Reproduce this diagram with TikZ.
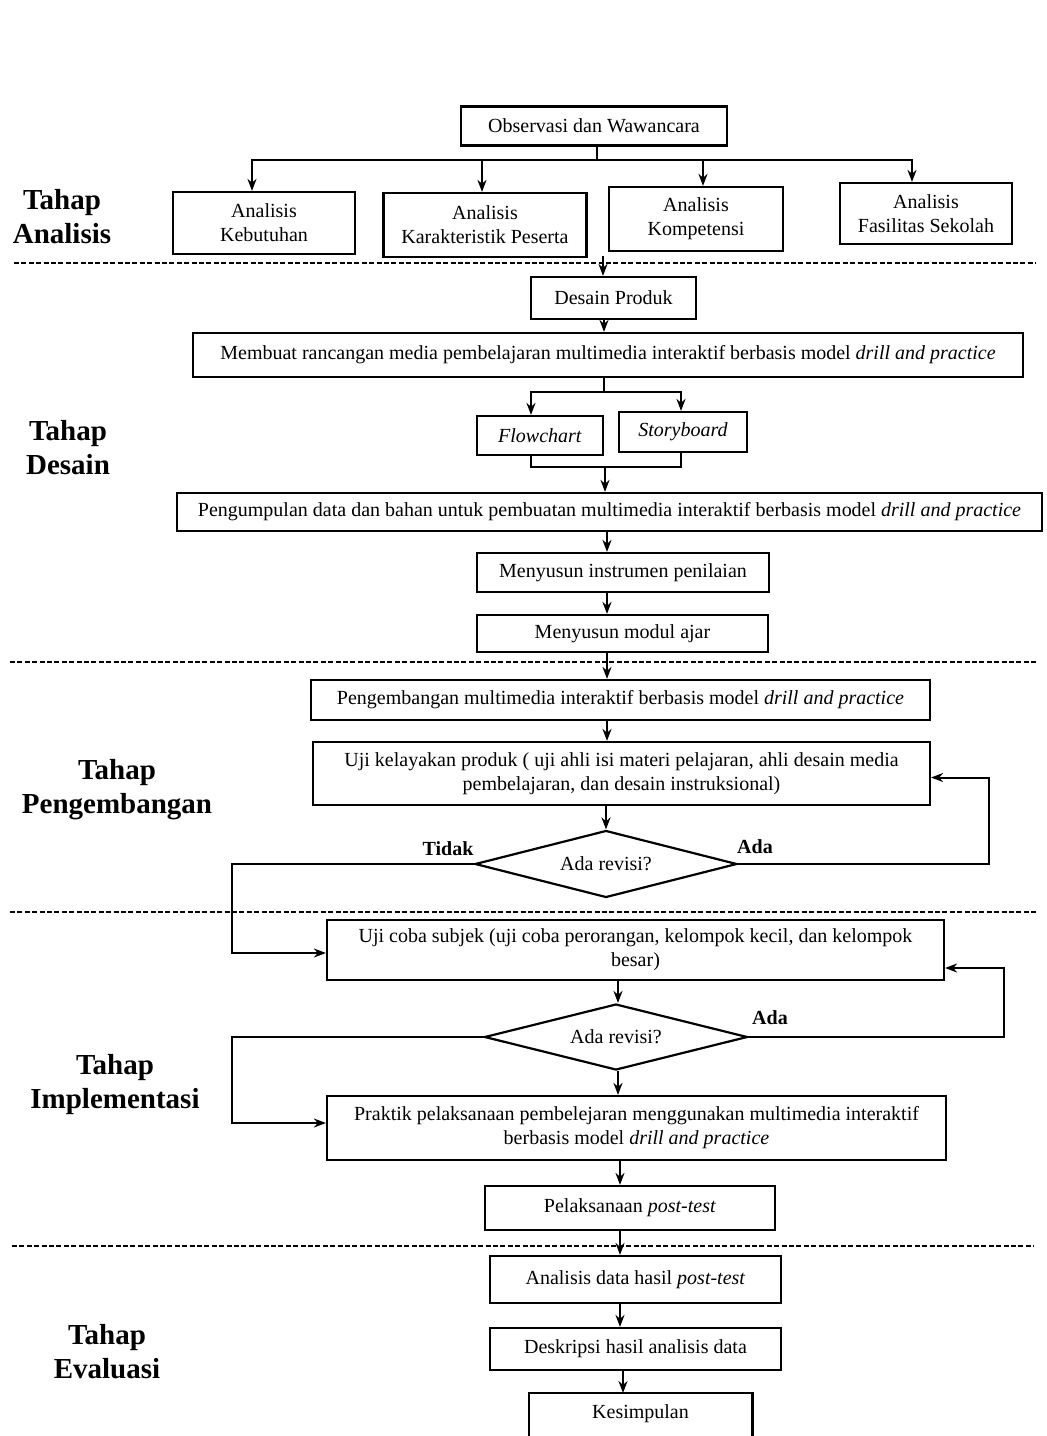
\documentclass[tikz,border=0pt]{standalone}
\usepackage{fontspec}
\setmainfont{Liberation Serif}
\usetikzlibrary{arrows.meta,shapes.geometric,calc}
\tikzset{
  box/.style={draw, line width=1.1pt, inner sep=0pt, align=center, font=\fontsize{10}{12}\selectfont},
  dia/.style={draw, diamond, aspect=3.9, line width=1.1pt, inner sep=0pt, font=\fontsize{10}{12}\selectfont},
  arr/.style={line width=1pt, -{Stealth[length=6pt,width=4.5pt]}},
  ln/.style={line width=1pt},
  sep/.style={line width=0.9pt, dash pattern=on 2.5pt off 1.2pt},
  stage/.style={align=center, font=\fontsize{14.5}{17}\selectfont\bfseries},
  lab/.style={font=\fontsize{10}{12}\selectfont\bfseries}
}
\begin{document}
\begin{tikzpicture}[x=0.5pt,y=-0.5pt]
\useasboundingbox (0,0) rectangle (1046,1436);

% stage labels
\node[stage] (sa) at (62,217) {Tahap\\Analisis};
\node[stage] (sd) at (68,448) {Tahap\\Desain};
\node[stage] (sp) at (117,790) {Tahap\\Pengembangan};
\node[stage] (si) at (115,1085) {Tahap\\Implementasi};
\node[stage] (se) at (107,1352) {Tahap\\Evaluasi};

% separators
\coordinate (s1a) at (14,263); \coordinate (s1b) at (1036,263);
\coordinate (s2a) at (10,662); \coordinate (s2b) at (1036,662);
\coordinate (s3a) at (10,912); \coordinate (s3b) at (1036,912);
\coordinate (s4a) at (12,1246); \coordinate (s4b) at (1034,1246);
\draw[sep] (s1a) -- (s1b);
\draw[sep] (s2a) -- (s2b);
\draw[sep] (s3a) -- (s3b);
\draw[sep] (s4a) -- (s4b);

% analysis
\node[box, minimum width=133pt, minimum height=19.5pt] (obs) at (594,126) {Observasi dan Wawancara};
\node[box, minimum width=91pt, minimum height=31pt] (keb) at (264,223) {Analisis\\Kebutuhan};
\node[box, minimum width=101.5pt, minimum height=32pt] (kar) at (485,225) {Analisis\\Karakteristik Peserta};
\node[box, minimum width=87pt, minimum height=32pt] (kom) at (696,219) {Analisis\\Kompetensi};
\node[box, minimum width=86pt, minimum height=30.5pt] (fas) at (926,213.5) {Analisis\\Fasilitas Sekolah};

\coordinate (j1) at (597,160);
\draw[ln] (obs.south -| j1) -- (j1);
\draw[arr] (j1) -| ([xshift=-6pt]keb.north);
\draw[arr] (j1) -| ([xshift=-1.5pt]kar.north);
\draw[arr] (j1) -| ([xshift=3.5pt]kom.north);
\draw[arr] (j1) -| ([xshift=-7pt]fas.north);

% design
\node[box, minimum width=82.5pt, minimum height=21pt] (dp) at (613.5,298) {Desain Produk};
\node[box, minimum width=415pt, minimum height=22pt] (mb) at (608,355) {Membuat rancangan media pembelajaran multimedia interaktif berbasis model \textit{drill and practice}};
\node[box, minimum width=63pt, minimum height=19.5pt] (fc) at (540,435.5) {\textit{Flowchart}};
\node[box, minimum width=64pt, minimum height=20pt] (sb) at (683,432) {\textit{Storyboard}};
\node[box, minimum width=432.5pt, minimum height=19pt] (pd) at (609.5,512) {Pengumpulan data dan bahan untuk pembuatan multimedia interaktif berbasis model \textit{drill and practice}};
\node[box, minimum width=146pt, minimum height=19.5pt] (ins) at (623,572.5) {Menyusun instrumen penilaian};
\node[box, minimum width=145.5pt, minimum height=18.5pt] (mod) at (622.5,633.5) {Menyusun modul ajar};

\coordinate (a0) at (603,256);
\draw[arr] (a0) -- (a0 |- dp.north);
\coordinate (x1) at (604,0);
\draw[arr] (dp.south -| x1) -- (mb.north -| x1);
\coordinate (j2) at (604,392);
\draw[ln] (mb.south -| j2) -- (j2);
\draw[arr] (j2) -| ([xshift=-4.5pt]fc.north);
\draw[arr] (j2) -| ([xshift=-1pt]sb.north);
\coordinate (j3) at (605,467);
\draw[ln] ([xshift=-4.5pt]fc.south) |- (j3) -| ([xshift=-1pt]sb.south);
\draw[arr] (j3) -- (j3 |- pd.north);
\coordinate (x2) at (607,0);
\draw[arr] (pd.south -| x2) -- (ins.north -| x2);
\draw[arr] (ins.south -| x2) -- (mod.north -| x2);

% development
\node[box, minimum width=309.5pt, minimum height=20pt] (pg) at (620.5,700) {Pengembangan multimedia interaktif berbasis model \textit{drill and practice}};
\node[box, minimum width=308.5pt, minimum height=31.5pt] (uk) at (621.5,773.5) {Uji kelayakan produk ( uji ahli isi materi pelajaran, ahli desain media\\pembelajaran, dan desain instruksional)};
\node[dia, minimum width=131pt, minimum height=33.5pt] (d1) at (606,864) {Ada revisi?};
\node[lab] (tidak) at (448,849) {Tidak};
\node[lab] (ada1) at (755,847) {Ada};

\draw[arr] (mod.south -| x2) -- (pg.north -| x2);
\draw[arr] (pg.south -| x2) -- (uk.north -| x2);
\draw[arr] (uk.south -| d1.north) -- (d1.north);
\coordinate (r1) at (989,0);
\draw[arr] (d1.east) -| ([yshift=-2pt]r1 |- uk.east) -- ([yshift=-2pt]uk.east);

% implementation
\node[box, minimum width=308.5pt, minimum height=30pt] (uc) at (635.5,950) {Uji coba subjek (uji coba perorangan, kelompok kecil, dan kelompok\\besar)};
\node[dia, minimum width=131.5pt, minimum height=33pt] (d2) at (616,1037) {Ada revisi?};
\node[lab] (ada2) at (770,1018) {Ada};
\node[box, minimum width=309.5pt, minimum height=32pt] (pr) at (636.5,1128) {Praktik pelaksanaan pembelejaran menggunakan multimedia interaktif\\berbasis model \textit{drill and practice}};
\node[box, minimum width=145pt, minimum height=22pt] (pt) at (630,1208) {Pelaksanaan \textit{post-test}};

\coordinate (l1) at (232,0);
\draw[arr] (d1.west) -| ([yshift=-1.5pt]l1 |- uc.west) -- ([yshift=-1.5pt]uc.west);
\coordinate (x3) at (618,0);
\draw[arr] (uc.south -| x3) -- (d2.north -| x3);
\coordinate (r2) at (1004,0);
\draw[arr] (d2.east) -| ([yshift=-9pt]r2 |- uc.east) -- ([yshift=-9pt]uc.east);
\draw[arr] (d2.west) -| ([yshift=2.5pt]l1 |- pr.west) -- ([yshift=2.5pt]pr.west);
\draw[arr] (d2.south -| x3) -- (pr.north -| x3);
\coordinate (x4) at (620,0);
\draw[arr] (pr.south -| x4) -- (pt.north -| x4);

% evaluation
\node[box, minimum width=145.5pt, minimum height=23.5pt] (ad) at (635.5,1279.5) {Analisis data hasil \textit{post-test}};
\node[box, minimum width=145.5pt, minimum height=21pt] (ds) at (635.5,1349) {Deskripsi hasil analisis data};
\node[inner sep=0pt, minimum width=111.5pt, minimum height=20pt, anchor=north, font=\fontsize{10}{12}\selectfont] (ks) at (640.5,1393) {Kesimpulan};
\draw[line width=1.1pt] ([yshift=-30pt]ks.south west) -- (ks.north west) -- (ks.north east) -- ([yshift=-30pt]ks.south east);

\draw[arr] (pt.south -| x4) -- (ad.north -| x4);
\draw[arr] (ad.south -| x4) -- (ds.north -| x4);
\coordinate (x5) at (623,0);
\draw[arr] (ds.south -| x5) -- (ks.north -| x5);
\end{tikzpicture}
\end{document}
